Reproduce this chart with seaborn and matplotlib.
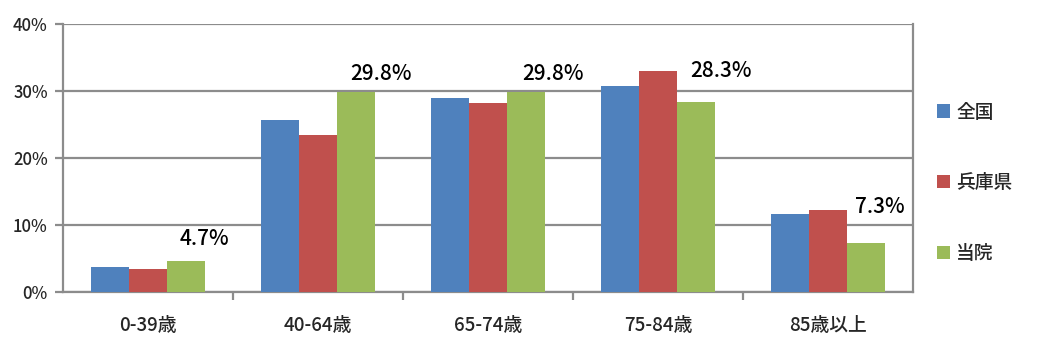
import matplotlib
matplotlib.use("Agg")
import matplotlib.pyplot as plt
import seaborn as sns
import pandas as pd
from matplotlib.patches import Patch

categories = ["0-39歳", "40-64歳", "65-74歳", "75-84歳", "85歳以上"]
series_names = ["全国", "兵庫県", "当院"]
zenkoku = [3.7, 25.6, 28.9, 30.8, 11.6]
hyogo = [3.5, 23.4, 28.2, 33.0, 12.2]
touin = [4.7, 29.8, 29.8, 28.3, 7.3]
y_ticks = [0, 10, 20, 30, 40]
colors = ["#4F81BD", "#C0504D", "#9BBB59"]

sns.set_theme(style="white")
plt.rcParams['font.family'] = ['Noto Sans CJK JP', 'DejaVu Sans']

rows = []
for name, vals in zip(series_names, [zenkoku, hyogo, touin]):
    for c, v in zip(categories, vals):
        rows.append({"cat": c, "series": name, "val": v})
df = pd.DataFrame(rows)

fig = plt.figure(figsize=(10.47, 3.54), dpi=100)
ax = fig.add_axes([63/1047, 62/354, (913-63)/1047, (292-24)/354])

sns.barplot(data=df, x="cat", y="val", hue="series", palette=colors,
            width=0.67, gap=0, saturation=1, ax=ax, legend=False,
            edgecolor="none", linewidth=0, zorder=3)

ax.set_ylim(0, 40)
ax.set_xlim(-0.5, 4.5)
ax.set_yticks(y_ticks)
ax.set_yticklabels([f"{t}%" for t in y_ticks], fontsize=12, fontweight="medium")
ax.set_xticks(range(len(categories)))
ax.set_xticklabels(categories, fontsize=13.5, fontweight="medium")
ax.set_xlabel("")
ax.set_ylabel("")

ax.yaxis.grid(True, color="#8C8C8C", linewidth=1.6, zorder=0)
ax.set_axisbelow(True)
for s in ["left", "bottom", "right"]:
    ax.spines[s].set_visible(True)
    ax.spines[s].set_color("#8C8C8C")
    ax.spines[s].set_linewidth(1.6)
ax.spines["top"].set_visible(False)

ax.tick_params(axis="y", which="major", left=True, length=6, width=1.6, color="#8C8C8C", pad=5)
ax.tick_params(axis="x", which="major", bottom=False, pad=11)
ax.set_xticks([0.5, 1.5, 2.5, 3.5], minor=True)
ax.tick_params(axis="x", which="minor", bottom=True, length=6, width=1.6, color="#8C8C8C")

# value labels for 当院 (placed above each green bar, as in the source)
label_raise = [1.6, 1.1, 1.1, 3.0, 3.7]
label_shift = [0.11, 0.15, 0.16, 0.15, 0.08]
green_container = ax.containers[2]
for bar, v, dy, dx in zip(green_container, touin, label_raise, label_shift):
    ax.text(bar.get_x() + bar.get_width() / 2 + dx, v + dy, f"{v:.1f}%",
            ha="center", va="bottom", fontsize=15, fontweight="medium",
            color="black", zorder=5)

handles = [Patch(facecolor=c, edgecolor="none") for c in colors]
fig.legend(handles, series_names, loc="upper left", bbox_to_anchor=(929/1047, 1 - 95/354),
           frameon=False, fontsize=13.5, handlelength=0.7, handleheight=0.7,
           handletextpad=0.35, labelspacing=2.75, borderaxespad=0,
           prop={"weight": "medium", "size": 13.5})

fig.savefig("out.png", dpi=100, facecolor="white")
